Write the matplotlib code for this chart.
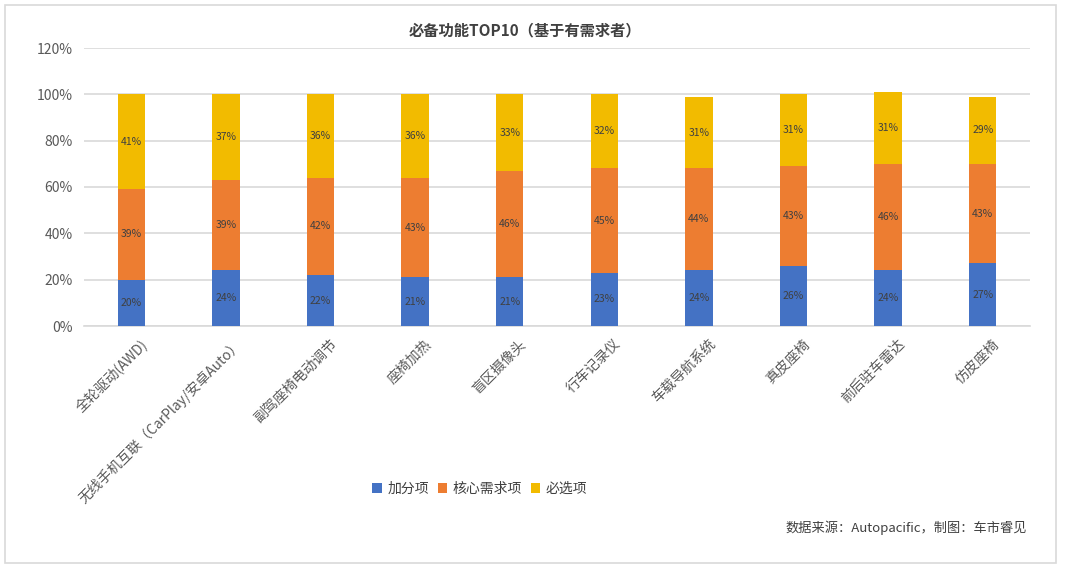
import numpy as np
import matplotlib

matplotlib.use("Agg")
import matplotlib.pyplot as plt
from matplotlib.patches import Rectangle
from matplotlib.ticker import FuncFormatter

plt.rcParams["font.family"] = ["Noto Sans CJK SC", "DejaVu Sans"]

# Data (percent)
categories = [
    "全轮驱动(AWD)",
    "无线手机互联（CarPlay/安卓Auto）",
    "副驾座椅电动调节",
    "座椅加热",
    "盲区摄像头",
    "行车记录仪",
    "车载导航系统",
    "真皮座椅",
    "前后驻车雷达",
    "仿皮座椅",
]
bonus = [20, 24, 22, 21, 21, 23, 24, 26, 24, 27]
core = [39, 39, 42, 43, 46, 45, 44, 43, 46, 43]
must = [41, 37, 36, 36, 33, 32, 31, 31, 31, 29]
series_names = ["加分项", "核心需求项", "必选项"]
colors = ["#4472C4", "#ED7D31", "#F2BB00"]

fig = plt.figure(figsize=(10.65, 5.70), dpi=100, facecolor="white")

# Outer frame
fig.patches.append(
    Rectangle(
        (5 / 1065, 7 / 570),
        1051 / 1065,
        558 / 570,
        transform=fig.transFigure,
        fill=False,
        edgecolor="#D9D9D9",
        linewidth=1.2,
    )
)

ax = fig.add_axes([84 / 1065, 244 / 570, 946 / 1065, 278 / 570])

x = np.arange(len(categories))
width = 0.29
bottom = np.zeros(len(categories))
for vals, name, col in zip([bonus, core, must], series_names, colors):
    vals = np.array(vals, dtype=float)
    ax.bar(x, vals, width, bottom=bottom, color=col, label=name, zorder=3)
    for xi, b, v in zip(x, bottom, vals):
        ax.text(
            xi,
            b + v / 2,
            "%d%%" % v,
            ha="center",
            va="center",
            fontsize=7.5,
            color="#404040",
            zorder=4,
        )
    bottom += vals

ax.set_xlim(-0.5, len(categories) - 0.5)
ax.set_ylim(0, 120)
ax.set_yticks(np.arange(0, 121, 20))
ax.yaxis.set_major_formatter(FuncFormatter(lambda v, p: "%d%%" % v))
ax.grid(axis="y", color="#D9D9D9", linewidth=1.2, zorder=0)
ax.set_axisbelow(True)
for s in ["top", "right", "left"]:
    ax.spines[s].set_visible(False)
ax.spines["bottom"].set_color("#D9D9D9")
ax.spines["bottom"].set_linewidth(1.2)
ax.tick_params(axis="both", length=0, labelsize=10, labelcolor="#595959")
ax.tick_params(axis="y", pad=8)

ax.set_xticks(x)
ax.set_xticklabels(categories, rotation=45, ha="right", va="top", rotation_mode="anchor")
for lbl in ax.get_xticklabels():
    lbl.set_fontsize(10)
    lbl.set_color("#595959")
    lbl.set_transform(
        lbl.get_transform()
        + matplotlib.transforms.ScaledTranslation(9 / 100, -6 / 100, fig.dpi_scale_trans)
    )

fig.text(
    525 / 1065,
    1 - 30 / 570,
    "必备功能TOP10（基于有需求者）",
    ha="center",
    va="center",
    fontsize=11,
    fontweight="bold",
    color="#404040",
)

leg = fig.legend(
    loc="center",
    bbox_to_anchor=(480 / 1065, 1 - 489 / 570),
    ncol=3,
    frameon=False,
    fontsize=10,
    handlelength=0.7,
    handleheight=0.7,
    handletextpad=0.4,
    columnspacing=0.6,
)
for t in leg.get_texts():
    t.set_color("#404040")

fig.text(
    1027 / 1065,
    1 - 528 / 570,
    "数据来源：Autopacific，制图：车市睿见",
    ha="right",
    va="center",
    fontsize=9.5,
    color="#404040",
)

fig.savefig("out.png", dpi=100, facecolor="white")
